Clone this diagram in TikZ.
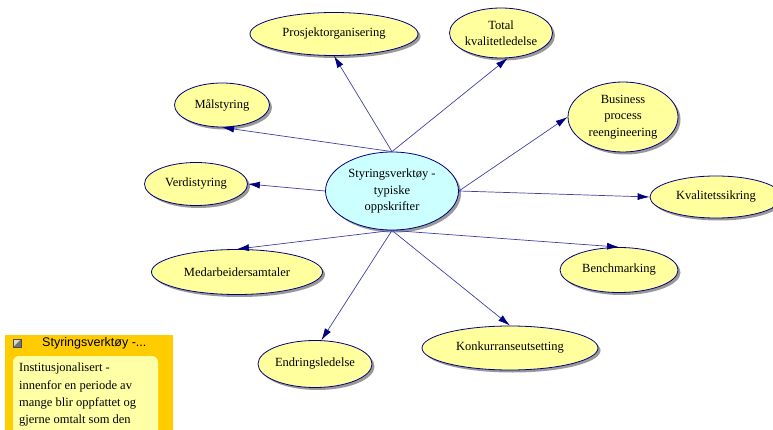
\documentclass[tikz,border=0pt]{standalone}
\usepackage{fontspec}
\setmainfont{Liberation Serif}
\setsansfont{Liberation Sans}
\usetikzlibrary{shapes.geometric,arrows.meta,shadows}
\definecolor{nodefill}{HTML}{FFFF9E}
\definecolor{centerfill}{HTML}{CCFFFF}
\definecolor{edgeblue}{HTML}{000080}
\definecolor{linecol}{HTML}{4040A0}
\definecolor{panelorange}{HTML}{FFCC00}
\definecolor{panelyellow}{HTML}{FFFFA6}
\tikzset{
  topic/.style={ellipse, draw=edgeblue, line width=0.8pt, fill=nodefill, inner sep=0pt,
    align=center, font=\fontsize{12.5}{16.5}\selectfont,
    drop shadow={shadow xshift=2.5pt, shadow yshift=-2.5pt, fill=black!40, opacity=1}},
  link/.style={draw=linecol, line width=0.7pt, -{Latex[length=12pt,width=7pt,color=edgeblue]}},
  bodytext/.style={font=\fontsize{12.5}{17.3}\selectfont, inner sep=0pt}
}
\begin{document}
\begin{tikzpicture}[x=1pt,y=-1pt]
\useasboundingbox (0,0) rectangle (773,430);
% nodes
\node[topic, minimum width=133pt, minimum height=78pt, fill=centerfill] (c) at (392,191) {Styringsverktøy -\\typiske\\oppskrifter};
\node[topic, minimum width=168pt, minimum height=43pt] (p) at (334,34) {Prosjektorganisering};
\node[topic, minimum width=103pt, minimum height=50pt] (t) at (501,33) {Total\\kvalitetledelse};
\node[topic, minimum width=110pt, minimum height=70pt] (b) at (623,117) {Business\\process\\reengineering};
\node[topic, minimum width=132pt, minimum height=42pt] (k) at (716,197) {Kvalitetssikring};
\node[topic, minimum width=118pt, minimum height=45pt] (bm) at (619,270) {Benchmarking};
\node[topic, minimum width=176pt, minimum height=44pt] (ko) at (510,348) {Konkurranseutsetting};
\node[topic, minimum width=114pt, minimum height=47pt] (e) at (315,364) {Endringsledelse};
\node[topic, minimum width=171pt, minimum height=45pt] (m) at (237,272) {Medarbeidersamtaler};
\node[topic, minimum width=103pt, minimum height=43pt] (v) at (196,184) {Verdistyring};
\node[topic, minimum width=95pt, minimum height=44pt] (ms) at (222,105) {Målstyring};
% connectors
\draw[link] (c.north) -- (p.south);
\draw[link] (c.north) -- (t.-75);
\draw[link] (c.north) -- (ms.south);
\draw[link] (c.west) -- (v.east);
\draw[link] (c.east) -- (b.west);
\draw[link] (c.east) -- (k.west);
\draw[link] (c.south) -- (m.north);
\draw[link] (c.south) -- (e.75);
\draw[link] (c.south) -- (ko.north);
\draw[link] (c.south) -- (bm.north);
% note panel
\fill[panelorange] (5,335) rectangle (173,432);
\fill[panelyellow, rounded corners=6pt] (13,356) rectangle (158,445);
\fill[black!55] (13,339) rectangle (21,347);
\fill[white!85!black] (13,339) -- (21,339) -- (13,347) -- cycle;
\draw[black!70, line width=0.4pt] (13,339) rectangle (21,347);
\node[font=\sffamily\fontsize{12.5}{14}\selectfont, anchor=west, inner sep=0pt] (ptitle) at (42,343) {Styringsverktøy -...};
\node[bodytext, anchor=north west, align=left] (ptext) at (19,363) {Institusjonalisert -\\innenfor en periode av\\mange blir oppfattet og\\gjerne omtalt som den};
\end{tikzpicture}
\end{document}
